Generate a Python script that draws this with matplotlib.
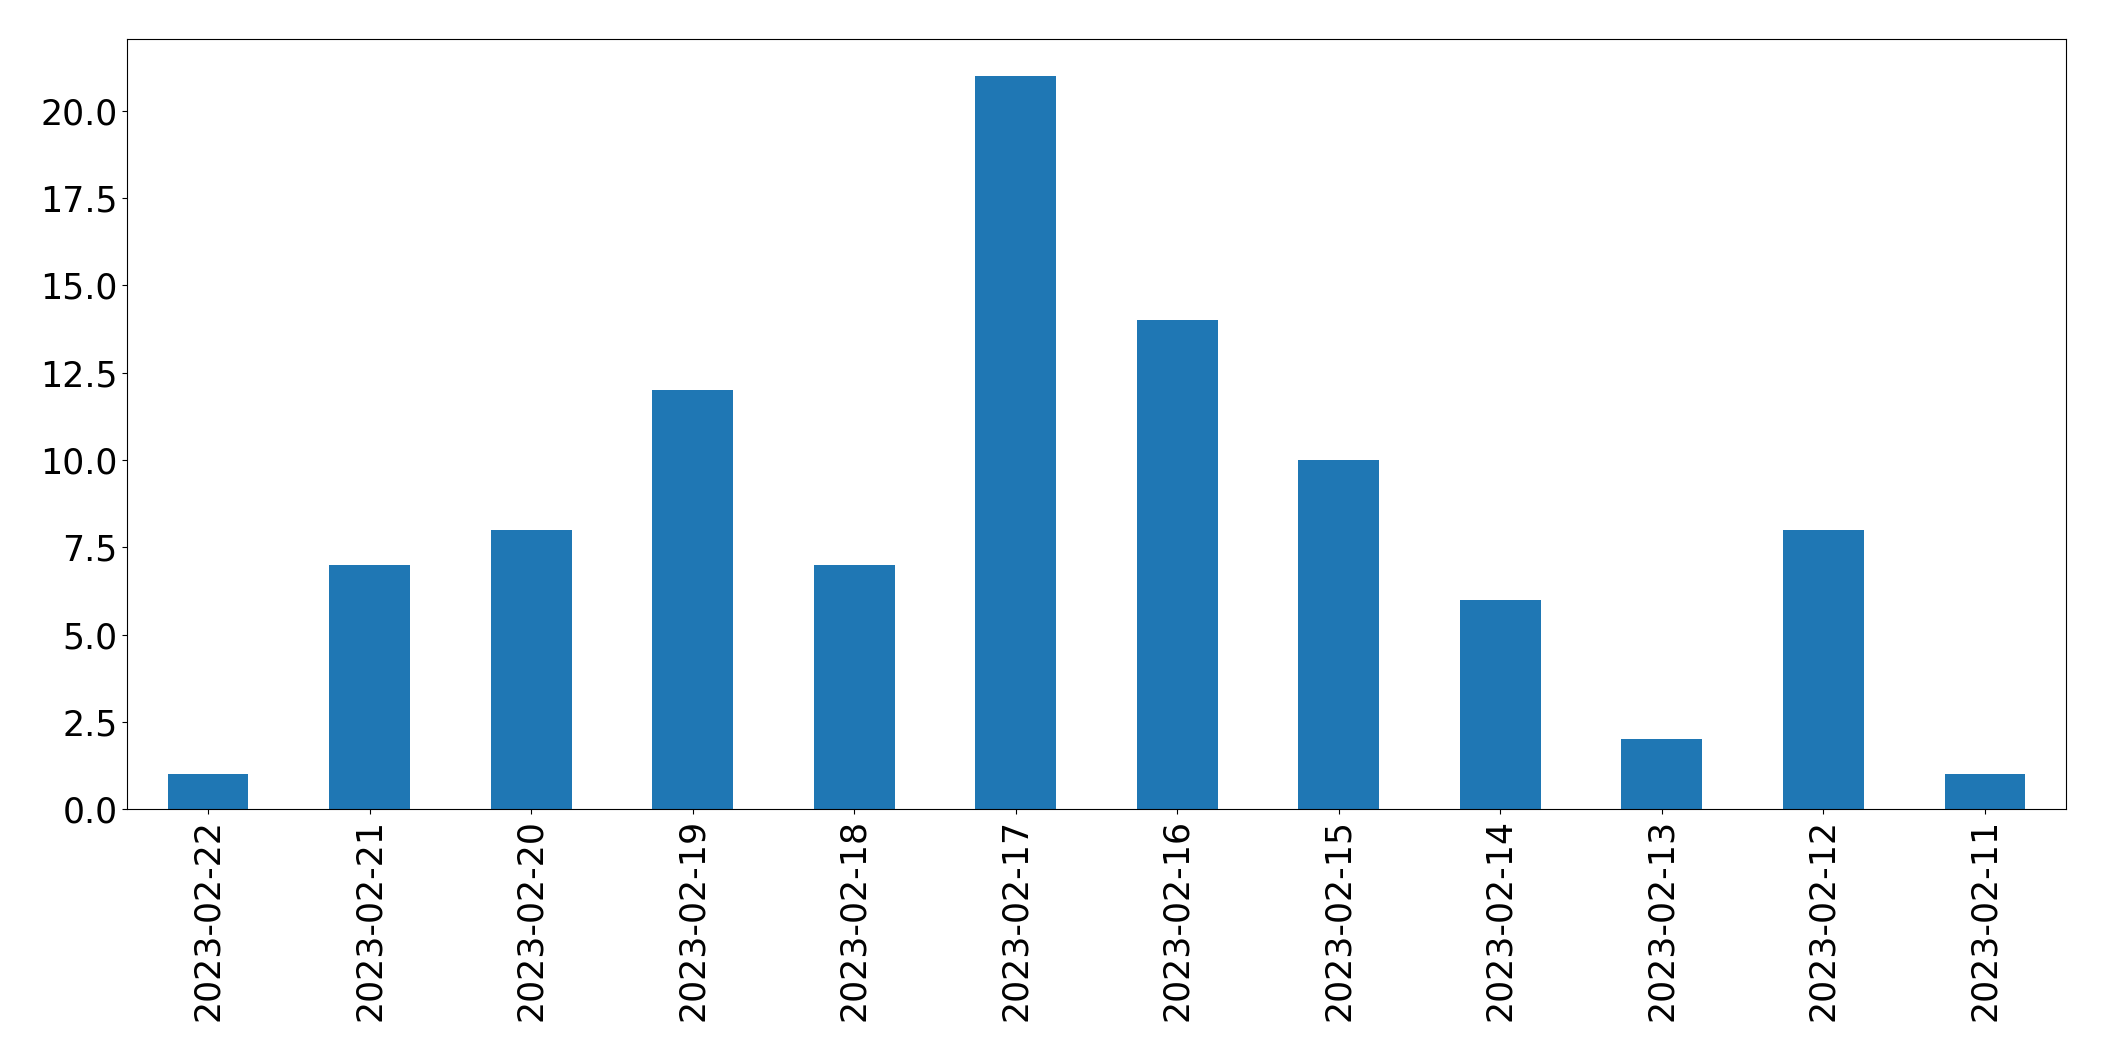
import matplotlib
matplotlib.use("Agg")
import matplotlib.pyplot as plt
import numpy as np

dates = ["2023-02-22", "2023-02-21", "2023-02-20", "2023-02-19", "2023-02-18", "2023-02-17",
         "2023-02-16", "2023-02-15", "2023-02-14", "2023-02-13", "2023-02-12", "2023-02-11"]
counts = [1, 7, 8, 12, 7, 21, 14, 10, 6, 2, 8, 1]

fig = plt.figure(figsize=(21.04, 10.61), dpi=100)
ax = fig.add_axes([127.3/2104, 1-809.3/1061, (2065.7-127.3)/2104, (809.3-39.3)/1061])
x = np.arange(len(dates))
ax.bar(x, counts, width=0.5, color="#1f77b4")
ax.set_xlim(-0.5, len(dates)-0.5)
ax.set_ylim(0, max(counts)*1.05)
ax.set_xticks(x)
ax.set_xticklabels(dates, rotation=90)
ax.tick_params(labelsize=25)
ax.yaxis.set_major_formatter(matplotlib.ticker.FormatStrFormatter('%.1f'))
fig.savefig("out.png", dpi=100)
